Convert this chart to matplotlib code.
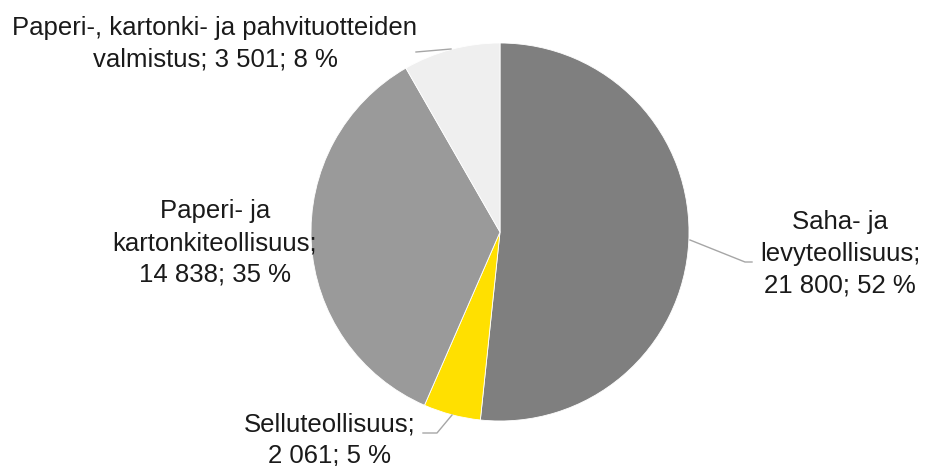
import matplotlib.pyplot as plt

# Data
categories = ["Saha- ja\nlevyteollisuus", "Selluteollisuus", "Paperi- ja\nkartonkiteollisuus",
              "Paperi-, kartonki- ja pahvituotteiden\nvalmistus"]
values = [21800, 2061, 14838, 3501]
value_texts = ["21 800", "2 061", "14 838", "3 501"]
percents = ["52 %", "5 %", "35 %", "8 %"]
colors = ["#7f7f7f", "#ffe000", "#9a9a9a", "#efefef"]

plt.rcParams['font.family'] = ['Liberation Sans', 'DejaVu Sans']

fig = plt.figure(figsize=(9.28, 4.66), dpi=100)
ax = fig.add_axes([0, 0, 1, 1])

cx, cy, r = 500, 232, 189
# y axis is inverted, so counterclock in data space is clockwise on screen
ax.pie(values, colors=colors, startangle=-90, counterclock=True,
       center=(cx, cy), radius=r, frame=True,
       wedgeprops=dict(linewidth=0.6, edgecolor="white"))

ax.set_xlim(0, 928)
ax.set_ylim(466, 0)
ax.set_aspect('equal')
ax.axis('off')

# Labels
labels = [
    "Saha- ja\nlevyteollisuus;\n21 800; 52 %",
    "Selluteollisuus;\n2 061; 5 %",
    "Paperi- ja\nkartonkiteollisuus;\n14 838; 35 %",
    "Paperi-, kartonki- ja pahvituotteiden\nvalmistus; 3 501; 8 %",
]
label_pos = [(840, 254), (330, 440), (215, 243), (215, 44)]
for text, (x, y) in zip(labels, label_pos):
    ax.text(x, y, text, ha='center', va='center', fontsize=18.5,
            color='#1a1a1a', linespacing=1.42)

# Leader lines
lc = '#a6a6a6'
ax.plot([690, 745, 752], [240, 262, 262], color=lc, lw=1)
ax.plot([452, 437, 423], [415, 433, 433], color=lc, lw=1)
ax.plot([451, 416], [49, 52], color=lc, lw=1)

fig.savefig('out.png', dpi=100)
